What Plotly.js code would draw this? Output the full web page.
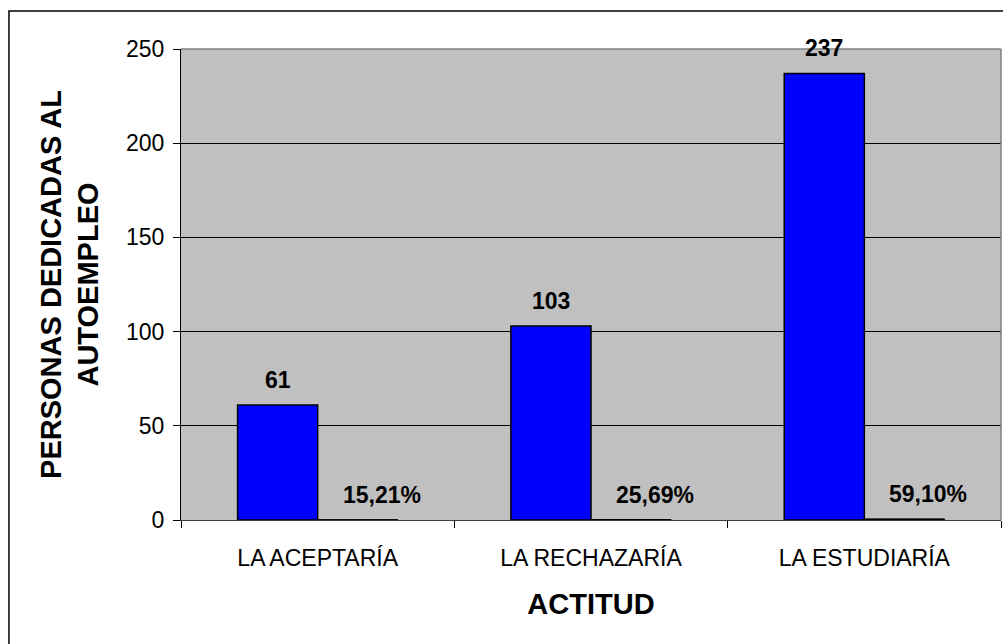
<!DOCTYPE html>
<html>
<head>
<meta charset="utf-8">
<script src="https://cdn.plot.ly/plotly-3.0.1.min.js"></script>
<style>
  html, body { margin: 0; padding: 0; background: #ffffff; }
  #chart { width: 1003px; height: 644px; }
</style>
</head>
<body>
<div id="chart"></div>
<script>
const categories = ["LA ACEPTARÍA", "LA RECHAZARÍA", "LA ESTUDIARÍA"];
const personas = [61, 103, 237];
const porcentajes = [0.1521, 0.2569, 0.5910];
const porcentajeLabels = ["15,21%", "25,69%", "59,10%"];
const yTickVals = [0, 50, 100, 150, 200, 250];

const FONT = "Arial, 'Liberation Sans', sans-serif";
const BARGAP = 0.414;
const half = (1 - BARGAP) / 4; // center offset of each of two grouped bars

const traces = [
  {
    type: "bar",
    x: categories,
    y: personas,
    name: "Personas",
    marker: { color: "#0000FF", line: { color: "#000000", width: 1.5 } },
    hoverinfo: "skip"
  },
  {
    type: "bar",
    x: categories,
    y: porcentajes,
    name: "Porcentaje",
    marker: { color: "#000000", line: { color: "#000000", width: 1 } },
    hoverinfo: "skip"
  }
];

const annotations = [];
categories.forEach((c, i) => {
  annotations.push({
    xref: "x", yref: "y", x: i - half, y: personas[i],
    text: "<b>" + personas[i] + "</b>", showarrow: false,
    yanchor: "middle", xanchor: "center", yshift: 25,
    font: { family: FONT, size: 23, color: "#000" }
  });
  annotations.push({
    xref: "x", yref: "y", x: i + half, y: porcentajes[i],
    text: "<b>" + porcentajeLabels[i] + "</b>", showarrow: false,
    yanchor: "middle", xanchor: "center", yshift: 25, xshift: 24,
    font: { family: FONT, size: 23, color: "#000" }
  });
});

const layout = {
  width: 1003, height: 644,
  margin: { l: 181, r: 2, t: 49, b: 124 },
  paper_bgcolor: "#ffffff",
  plot_bgcolor: "#C0C0C0",
  showlegend: false,
  barmode: "group",
  bargap: BARGAP,
  bargroupgap: 0,
  font: { family: FONT, color: "#000" },
  xaxis: {
    type: "category",
    tickson: "boundaries",
    ticks: "outside", ticklen: 7, tickcolor: "#000", tickwidth: 1,
    ticklabelstandoff: 17,
    showline: true, linecolor: "#404040", linewidth: 1,
    tickfont: { family: FONT, size: 23, color: "#000" },
    showgrid: false,
    title: { text: "<b>ACTITUD</b>", font: { family: FONT, size: 29, color: "#000" }, standoff: 24 }
  },
  yaxis: {
    range: [0, 250],
    tickvals: yTickVals,
    ticks: "outside", ticklen: 7, tickcolor: "#000", tickwidth: 1,
    ticklabelstandoff: 4,
    showline: true, linecolor: "#000", linewidth: 1,
    gridcolor: "#000", gridwidth: 1,
    zeroline: false,
    tickfont: { family: FONT, size: 23, color: "#000" },
    title: { text: "<b>PERSONAS DEDICADAS AL<br>AUTOEMPLEO</b>", font: { family: FONT, size: 29, color: "#000" }, standoff: 18 }
  },
  annotations: annotations,
  shapes: [
    { type: "line", xref: "paper", yref: "paper", x0: 0, x1: 1, y0: 1, y1: 1, line: { color: "#808080", width: 1.5 }, layer: "above" },
    { type: "line", xref: "paper", yref: "paper", x0: 1, x1: 1, y0: 0, y1: 1, line: { color: "#808080", width: 1.5 }, layer: "above" },
    { type: "rect", xref: "paper", yref: "paper", x0: -0.2098, x1: 1.01, y0: -0.30, y1: 1.0807, line: { color: "#000", width: 1.5 }, fillcolor: "rgba(0,0,0,0)", layer: "below" }
  ]
};

Plotly.newPlot("chart", traces, layout, { staticPlot: true, displayModeBar: false });
</script>
</body>
</html>
